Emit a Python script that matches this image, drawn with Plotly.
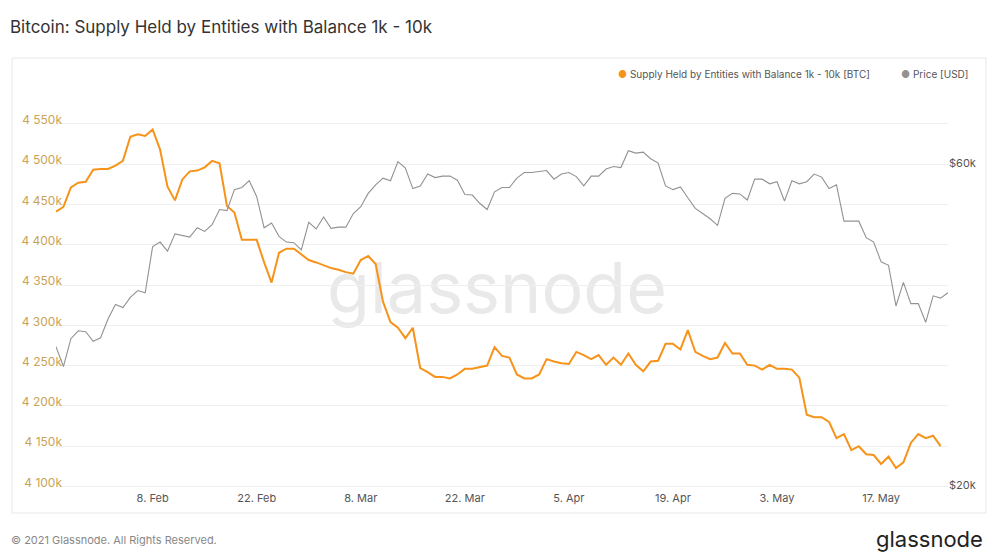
import pandas as pd
import plotly.graph_objects as go

# daily points, 26 Jan 2021 -> 26 May 2021
dates = pd.date_range("2021-01-26", "2021-05-26", freq="D")

# Supply held by entities with balance 1k - 10k, in thousands of BTC (ends one day earlier)
supply_k = [
    4441, 4447, 4471, 4477, 4478, 4493, 4494, 4494, 4498, 4504,
    4534, 4537, 4535, 4543, 4518, 4472, 4455, 4481, 4491, 4492,
    4496, 4504, 4501, 4448, 4440, 4406, 4406, 4406, 4378, 4353,
    4390, 4395, 4395, 4388, 4381, 4378, 4374, 4371, 4369, 4366,
    4364, 4381, 4386, 4376, 4329, 4304, 4297, 4284, 4297, 4247,
    4242, 4236, 4236, 4234, 4239, 4246, 4246, 4248, 4250, 4273,
    4262, 4260, 4239, 4234, 4234, 4239, 4258, 4255, 4253, 4252,
    4267, 4263, 4258, 4263, 4251, 4260, 4251, 4265, 4251, 4243,
    4255, 4256, 4277, 4277, 4270, 4294, 4267, 4262, 4258, 4260,
    4278, 4265, 4265, 4251, 4250, 4245, 4251, 4246, 4246, 4245,
    4235, 4189, 4186, 4186, 4180, 4160, 4165, 4145, 4150, 4140,
    4139, 4128, 4137, 4123, 4130, 4154, 4165, 4160, 4163, 4150,
]

# BTC price in thousands of USD
price_k = [
    32.2, 30.1, 33.1, 34.0, 33.9, 32.8, 33.2, 35.4, 37.2, 36.8,
    38.1, 39.0, 38.7, 45.3, 46.0, 44.6, 47.3, 47.0, 46.8, 48.3,
    47.7, 48.8, 51.4, 51.2, 55.0, 55.4, 56.7, 53.7, 48.3, 49.1,
    46.9, 46.0, 45.9, 44.8, 49.2, 48.1, 50.1, 48.2, 48.4, 48.4,
    50.7, 51.9, 54.3, 55.9, 57.2, 56.7, 60.5, 59.2, 55.2, 55.7,
    58.0, 57.3, 57.6, 57.6, 56.8, 54.1, 54.0, 52.5, 51.4, 54.6,
    55.4, 55.4, 57.2, 58.3, 58.3, 58.5, 58.7, 57.0, 58.0, 58.3,
    57.5, 55.7, 57.6, 57.6, 59.0, 59.5, 59.3, 62.8, 62.3, 62.5,
    61.1, 60.2, 55.7, 55.0, 55.5, 53.5, 51.6, 50.7, 49.8, 48.7,
    53.4, 54.3, 54.2, 53.1, 57.0, 57.0, 56.1, 56.5, 52.9, 56.7,
    56.1, 56.5, 58.0, 57.4, 55.2, 55.9, 49.4, 49.4, 49.4, 46.7,
    46.0, 43.0, 42.5, 37.0, 40.1, 37.3, 37.3, 35.0, 38.3, 38.0,
    38.7,
]

x_tick_dates = ["2021-02-08", "2021-02-22", "2021-03-08", "2021-03-22",
                "2021-04-05", "2021-04-19", "2021-05-03", "2021-05-17"]
x_tick_labels = ["8. Feb", "22. Feb", "8. Mar", "22. Mar",
                 "5. Apr", "19. Apr", "3. May", "17. May"]
supply_ticks = [4100, 4150, 4200, 4250, 4300, 4350, 4400, 4450, 4500, 4550]
supply_tick_labels = ["4 100k", "4 150k", "4 200k", "4 250k", "4 300k",
                      "4 350k", "4 400k", "4 450k", "4 500k", "4 550k"]
price_ticks = [20, 60]
price_tick_labels = ["$20k", "$60k"]

ORANGE = "#f7931a"
GREY = "#929292"
FONT = "Inter, Roboto, sans-serif"

W, H = 1000, 560
ML, MR, MT, MB = 56, 52, 100, 70
PW, PH = W - ML - MR, H - MT - MB


def px(x):
    return (x - ML) / PW


def py(y):
    return 1 - (y - MT) / PH


fig = go.Figure()

fig.add_trace(
    go.Scatter(
        x=dates[: len(price_k)],
        y=[p * 1000 for p in price_k],
        mode="lines",
        name="Price [USD]",
        line={"color": GREY, "width": 1.1},
        yaxis="y2",
    )
)
fig.add_trace(
    go.Scatter(
        x=dates[: len(supply_k)],
        y=supply_k,
        mode="lines",
        name="Supply Held by Entities with Balance 1k - 10k [BTC]",
        line={"color": ORANGE, "width": 2},
    )
)

fig.update_layout(
    width=W,
    height=H,
    margin={"l": ML, "r": MR, "t": MT, "b": MB},
    paper_bgcolor="white",
    plot_bgcolor="white",
    showlegend=False,
    font={"family": FONT, "size": 11, "color": "#555"},
    xaxis={
        "range": [dates[0], dates[-1]],
        "tickvals": x_tick_dates,
        "ticktext": x_tick_labels,
        "showgrid": False,
        "zeroline": False,
        "showline": False,
        "ticks": "",
        "tickfont": {"size": 11, "color": "#555"},
    },
    yaxis={
        "range": [4095.66, 4579.53],
        "tickvals": supply_ticks,
        "ticktext": supply_tick_labels,
        "showgrid": True,
        "gridcolor": "#efefef",
        "zeroline": False,
        "showline": False,
        "ticks": "",
        "tickfont": {"size": 12, "color": "#c9a458"},
        "ticklabelstandoff": -7,
        "ticklabelshift": -4,
    },
    yaxis2={
        "type": "log",
        "overlaying": "y",
        "side": "right",
        "range": [4.29585, 4.87303],
        "tickvals": [t * 1000 for t in price_ticks],
        "ticktext": price_tick_labels,
        "showgrid": False,
        "zeroline": False,
        "showline": False,
        "ticks": "",
        "tickfont": {"size": 11, "color": "#555"},
        "ticklabelshift": -1,
    },
    shapes=[
        {
            "type": "rect", "xref": "paper", "yref": "paper",
            "x0": px(12), "x1": px(986), "y0": py(513), "y1": py(58),
            "line": {"color": "#e8e8e8", "width": 1}, "layer": "below",
        },
        {
            "type": "rect", "xref": "paper", "yref": "paper",
            "x0": px(297), "x1": px(697), "y0": py(325), "y1": py(245),
            "line": {"width": 0}, "layer": "between",
            "label": {"text": "glassnode", "font": {"family": FONT, "size": 70, "color": "#e9e9e9"}},
        },
    ],
    annotations=[
        {
            "text": "Bitcoin: Supply Held by Entities with Balance 1k - 10k",
            "xref": "paper", "yref": "paper", "x": px(8), "y": py(27),
            "xanchor": "left", "yanchor": "middle", "showarrow": False,
            "font": {"family": FONT, "size": 17, "color": "#333"},
        },
        {
            "text": f"<span style='color:{ORANGE}'>●</span> Supply Held by Entities with Balance 1k - 10k [BTC]",
            "xref": "paper", "yref": "paper", "x": px(872), "y": py(74),
            "xanchor": "right", "yanchor": "middle", "showarrow": False,
            "font": {"family": FONT, "size": 10, "color": "#555"},
        },
        {
            "text": f"<span style='color:{GREY}'>●</span> Price [USD]",
            "xref": "paper", "yref": "paper", "x": px(970), "y": py(74),
            "xanchor": "right", "yanchor": "middle", "showarrow": False,
            "font": {"family": FONT, "size": 10, "color": "#555"},
        },
        {
            "text": "© 2021 Glassnode. All Rights Reserved.",
            "xref": "paper", "yref": "paper", "x": px(9), "y": py(540),
            "xanchor": "left", "yanchor": "middle", "showarrow": False,
            "font": {"family": FONT, "size": 11, "color": "#888"},
        },
        {
            "text": "glassnode",
            "xref": "paper", "yref": "paper", "x": px(985), "y": py(539),
            "xanchor": "right", "yanchor": "middle", "showarrow": False,
            "font": {"family": FONT, "size": 22, "color": "#222"},
        },
    ],
)

# the page's default body margin would push the figure 8px down and right
fig.write_html(
    "out.html",
    config={"displayModeBar": False},
    post_script="document.body.style.margin = '0';",
)
